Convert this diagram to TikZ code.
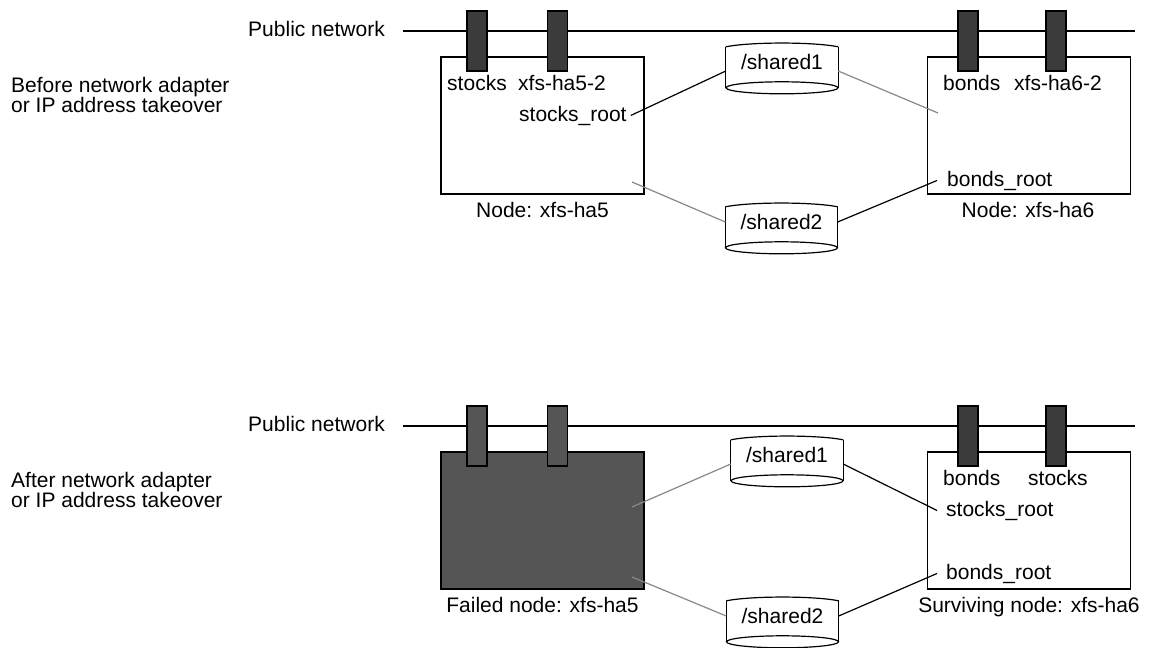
\documentclass[tikz,border=0pt]{standalone}
\usepackage{fontspec}
\setmainfont{Liberation Sans}

\definecolor{adapterdark}{HTML}{3B3B3B}
\definecolor{faileddark}{HTML}{555555}
\definecolor{linkgray}{HTML}{888888}

% outline of a shared disk: arched top, straight sides, full ellipse at the bottom
\newcommand\drawdisk[1]{%
  \draw[diskline] (#1.north west) .. controls +(25,-5) and +(-25,-5) .. (#1.north east);
  \draw[diskline] (#1.north west) -- ([yshift=-41pt]#1.north west);
  \draw[diskline] (#1.north east) -- ([yshift=-41pt]#1.north east);
  \draw[diskline] ([yshift=-41pt]#1.north) ellipse (56pt and 6pt);
}

\begin{document}
\begin{tikzpicture}[x=1pt,y=-1pt,
    every node/.style={font=\fontsize{21}{20}\selectfont},
    lbl/.style={inner sep=0pt, anchor=base},
    hostbox/.style={draw=black, line width=1.2pt, minimum width=203pt, minimum height=137pt, inner sep=0pt},
    adapter/.style={draw=black, fill=adapterdark, line width=1.2pt, minimum width=20pt, minimum height=60pt, inner sep=0pt},
    disk/.style={minimum width=112pt, minimum height=48pt, inner sep=0pt},
    diskline/.style={line width=1.2pt},
    netline/.style={line width=1.5pt},
    link/.style={draw=black, line width=1.2pt},
    glink/.style={draw=linkgray, line width=1.2pt}]

    \useasboundingbox (0,0) rectangle (1152,648);

    % before the takeover
    \node[lbl, anchor=base west, align=left] (capA) at (11,112) {Before network adapter\\or IP address takeover};
    \node[lbl, anchor=base east] (pubA) at (385,36) {Public network};
    \coordinate (netendA) at (1135,31);
    \draw[netline] ([xshift=18pt]pubA.east |- netendA) -- (netendA);

    \node[hostbox] (ha5A) at (542.5,125.5) {};
    \node[hostbox] (ha6A) at (1029,125.5) {};
    \node[adapter] (ad5aA) at (477,41) {};
    \node[adapter] (ad5bA) at (557.5,41) {};
    \node[adapter] (ad6aA) at (968,41) {};
    \node[adapter] (ad6bA) at (1056,41) {};

    \node[lbl] (stocksA) at (477,90) {stocks};
    \node[lbl] (ip5A) at (562,90) {xfs-ha5-2};
    \node[lbl, anchor=base west] (srA) at (519,121) {stocks\_root};
    \node[lbl] (name5A) at (542.5,217) {Node: xfs-ha5};
    \node[lbl, anchor=base west] (bondsA) at (943,90) {bonds};
    \node[lbl, anchor=base west] (ip6A) at (1014,90) {xfs-ha6-2};
    \node[lbl, anchor=base west] (brA) at (947,186) {bonds\_root};
    \node[lbl] (name6A) at (1028,217) {Node: xfs-ha6};

    \node[disk] (s1A) at (782,71) {};
    \node[lbl] (s1At) at (782,69) {/shared1};
    \drawdisk{s1A}
    \node[disk] (s2A) at (781.5,231) {};
    \node[lbl] (s2At) at (781.5,229) {/shared2};
    \drawdisk{s2A}

    \coordinate (in5A) at (632,182);
    \coordinate (in6A) at (938,113);
    \draw[link] ([xshift=4pt]srA.east) -- (s1A.west);
    \draw[glink] (s1A.east) -- (in6A);
    \draw[glink] (in5A) -- ([yshift=9pt]s2A.west);
    \draw[link] ([yshift=9pt]s2A.east) -- ([xshift=-10pt]brA.west);

    % after the takeover
    \node[lbl, anchor=base west, align=left] (capB) at (11,507) {After network adapter\\or IP address takeover};
    \node[lbl, anchor=base east] (pubB) at (385,431) {Public network};
    \coordinate (netendB) at (1135,426);
    \draw[netline] ([xshift=18pt]pubB.east |- netendB) -- (netendB);

    \node[hostbox, fill=faileddark] (ha5B) at (542.5,520.5) {};
    \node[hostbox] (ha6B) at (1029,520.5) {};
    \node[adapter, fill=faileddark] (ad5aB) at (477,436) {};
    \node[adapter, fill=faileddark] (ad5bB) at (557.5,436) {};
    \node[adapter] (ad6aB) at (968,436) {};
    \node[adapter] (ad6bB) at (1056,436) {};

    \node[lbl] (name5B) at (542.5,612) {Failed node: xfs-ha5};
    \node[lbl, anchor=base west] (bondsB) at (943,485) {bonds};
    \node[lbl, anchor=base west] (stocksB) at (1028,485) {stocks};
    \node[lbl, anchor=base west] (srB) at (946,516) {stocks\_root};
    \node[lbl, anchor=base west] (brB) at (946,579) {bonds\_root};
    \node[lbl] (name6B) at (1029,612) {Surviving node: xfs-ha6};

    \node[disk] (s1B) at (787,464) {};
    \node[lbl] (s1Bt) at (787,462) {/shared1};
    \drawdisk{s1B}
    \node[disk] (s2B) at (782.5,625) {};
    \node[lbl] (s2Bt) at (782.5,623) {/shared2};
    \drawdisk{s2B}

    \coordinate (in5aB) at (632,507);
    \coordinate (in5bB) at (632,577);
    \draw[glink] (in5aB) -- (s1B.west);
    \draw[glink] (in5bB) -- ([yshift=9pt]s2B.west);
    \draw[link] (s1B.east) -- ([xshift=-9pt]srB.west);
    \draw[link] ([yshift=9pt]s2B.east) -- ([xshift=-9pt]brB.west);

\end{tikzpicture}
\end{document}
